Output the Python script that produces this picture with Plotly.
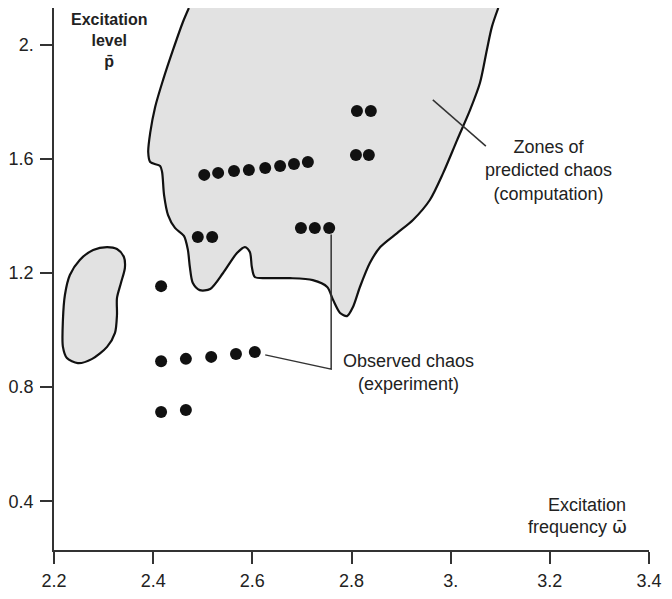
import plotly.graph_objects as go

# Axis ticks
x_tick_vals = [2.2, 2.4, 2.6, 2.8, 3.0, 3.2, 3.4]
x_tick_text = ["2.2", "2.4", "2.6", "2.8", "3.", "3.2", "3.4"]
y_tick_vals = [0.4, 0.8, 1.2, 1.6, 2.0]
y_tick_text = ["0.4", "0.8", "1.2", "1.6", "2."]

# Zone of predicted chaos (computation) - main region outline (open at top)
zone_x = [2.472, 2.460, 2.440, 2.420, 2.404, 2.394, 2.390, 2.394, 2.414, 2.418,
          2.422, 2.430, 2.444, 2.462, 2.470, 2.474, 2.480, 2.494, 2.515, 2.541,
          2.569, 2.585, 2.595, 2.599, 2.605, 2.630, 2.676, 2.722, 2.751, 2.763,
          2.777, 2.791, 2.803, 2.817, 2.837, 2.858, 2.892, 2.924, 2.958, 2.985,
          3.013, 3.039, 3.059, 3.073, 3.083, 3.096]
zone_y = [2.129, 2.080, 1.982, 1.877, 1.782, 1.691, 1.624, 1.589, 1.575, 1.554,
          1.473, 1.403, 1.358, 1.330, 1.281, 1.221, 1.165, 1.140, 1.144, 1.200,
          1.270, 1.291, 1.274, 1.221, 1.186, 1.182, 1.182, 1.175, 1.151, 1.105,
          1.060, 1.049, 1.081, 1.151, 1.235, 1.291, 1.340, 1.386, 1.456, 1.551,
          1.666, 1.771, 1.866, 1.982, 2.062, 2.129]

# Small isolated zone of predicted chaos
blob_x = [2.307, 2.327, 2.341, 2.343, 2.335, 2.327, 2.327, 2.323, 2.307, 2.277,
          2.248, 2.226, 2.218, 2.218, 2.222, 2.232, 2.252, 2.279, 2.307]
blob_y = [1.291, 1.284, 1.256, 1.218, 1.165, 1.112, 1.053, 0.990, 0.941, 0.899,
          0.884, 0.902, 0.941, 1.035, 1.123, 1.193, 1.246, 1.281, 1.291]

# Observed chaos (experiment)
obs_x = [2.811, 2.839, 2.809, 2.835, 2.503, 2.531, 2.563, 2.593, 2.626, 2.656,
         2.684, 2.712, 2.490, 2.519, 2.698, 2.726, 2.755, 2.416, 2.416, 2.466,
         2.517, 2.567, 2.605, 2.416, 2.466]
obs_y = [1.768, 1.768, 1.614, 1.614, 1.544, 1.551, 1.558, 1.561, 1.568, 1.575,
         1.582, 1.589, 1.326, 1.326, 1.358, 1.358, 1.358, 1.154, 0.891, 0.899,
         0.906, 0.916, 0.923, 0.713, 0.720]

# Leader lines
zone_leader_x = [2.964, 3.071]
zone_leader_y = [1.807, 1.645]
obs_leader_x = [2.626, 2.759, 2.759]
obs_leader_y = [0.913, 0.863, 1.335]

FONT = "Liberation Sans, Arial, Helvetica, sans-serif"
INK = "#222222"
FILL = "#e2e2e2"

fig = go.Figure()

fig.add_trace(go.Scatter(
    x=zone_x, y=zone_y, mode="lines", fill="toself", fillcolor=FILL,
    line=dict(color="#111111", width=2.2, shape="spline", smoothing=0.8),
    hoverinfo="skip", cliponaxis=False))
fig.add_trace(go.Scatter(
    x=blob_x, y=blob_y, mode="lines", fill="toself", fillcolor=FILL,
    line=dict(color="#111111", width=2.2, shape="spline", smoothing=0.8),
    hoverinfo="skip"))

fig.add_trace(go.Scatter(
    x=zone_leader_x, y=zone_leader_y, mode="lines",
    line=dict(color="#333333", width=1.5), hoverinfo="skip"))
fig.add_trace(go.Scatter(
    x=obs_leader_x, y=obs_leader_y, mode="lines",
    line=dict(color="#333333", width=1.5), hoverinfo="skip"))

fig.add_trace(go.Scatter(
    x=obs_x, y=obs_y, mode="markers",
    marker=dict(color="#111111", size=12, line=dict(width=0))))

# Y axis extension below x axis
fig.add_shape(type="line", xref="paper", yref="paper", x0=0, x1=0,
              y0=0, y1=-0.022, line=dict(color="#333333", width=1.5))

ann = [
    dict(text="<b>Excitation<br>level<br>p\u0304</b>", x=2.311, y=2.014,
         xanchor="center", yanchor="middle", font=dict(size=16)),
    dict(text="Excitation", x=3.357, y=0.387, xanchor="right", yanchor="middle",
         font=dict(size=18)),
    dict(text="frequency <span style=\"font-family:'DejaVu Sans'\">\u03c9\u0304</span>",
         x=3.36, y=0.310, xanchor="right", yanchor="middle", font=dict(size=18)),
    dict(text="Zones of<br>predicted chaos<br>(computation)", x=3.198, y=1.561,
         xanchor="center", yanchor="middle", font=dict(size=18)),
    dict(text="Observed chaos<br>(experiment)", x=2.914, y=0.853,
         xanchor="center", yanchor="middle", font=dict(size=18)),
]
for a in ann:
    a.update(xref="x", yref="y", showarrow=False)
    a["font"].update(family=FONT, color=INK)
    fig.add_annotation(**a)

axis_common = dict(showgrid=False, zeroline=False, showline=True, linecolor="#333333",
                   linewidth=1.5, ticks="outside", ticklen=12, tickwidth=1.5,
                   tickcolor="#333333", automargin=False,
                   tickfont=dict(size=18, family=FONT, color=INK))

fig.update_layout(
    width=656, height=591,
    margin=dict(l=46, r=15, t=0, b=49),
    plot_bgcolor="white", paper_bgcolor="white",
    showlegend=False,
    font=dict(family=FONT, color=INK),
    xaxis=dict(range=[2.2, 3.4], tickvals=x_tick_vals, ticktext=x_tick_text,
               ticklabelstandoff=2, **axis_common),
    yaxis=dict(range=[0.229, 2.129], tickvals=y_tick_vals, ticktext=y_tick_text,
               ticklabelstandoff=3, **axis_common),
)

fig.write_html("out.html")
